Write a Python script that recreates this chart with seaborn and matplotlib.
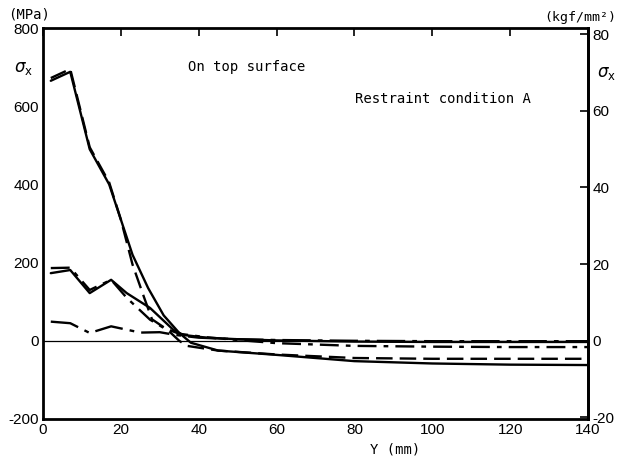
import numpy as np
import pandas as pd
import matplotlib
matplotlib.use("Agg")
import matplotlib.pyplot as plt
import seaborn as sns

# Series A (high peak)
a_solid_y = [2, 7, 12, 17, 20, 23, 27, 31, 35, 38, 45, 60, 80, 100, 120, 140]
a_solid_v = [665, 688, 490, 400, 310, 220, 135, 65, 20, -5, -25, -36, -52, -58, -61, -62]
a_dash_y = [2, 7, 12, 17, 20, 23, 26, 28, 32, 35, 37, 45, 60, 80, 100, 120, 140]
a_dash_v = [672, 695, 495, 405, 310, 195, 110, 55, 28, 0, -13, -25, -35, -44, -46, -46, -46]
# Series B (~180 start)
b_solid_y = [2, 7, 12, 17.5, 21.5, 27.5, 33.5, 36, 42, 50, 60, 80, 100, 120, 140]
b_solid_v = [173, 181, 122, 156, 122, 84, 28, 15, 8, 4, 1, -2, -3, -3, -3]
b_dd_y = [2, 7, 12, 17.5, 21.5, 27.5, 31, 35, 42, 50, 60, 80, 100, 120, 140]
b_dd_v = [186, 187, 130, 156, 110, 54, 33, 18, 9, 2, -6, -13, -15, -16, -16]
# Series C (~45 start)
c_y = [2, 7, 12, 17.5, 25, 30, 34, 40, 50, 60, 80, 100, 120, 140]
c_v = [49, 45, 20, 37, 21, 22, 15, 8, 4, 2, 0, -1, -1, -1]

x_ticks = [0, 20, 40, 60, 80, 100, 120, 140]
y_ticks = [-200, 0, 200, 400, 600, 800]
y2_ticks = [-20, 0, 20, 40, 60, 80]

sns.set_style("white")
plt.rcParams['font.family'] = ['DejaVu Sans Mono', 'DejaVu Sans']
plt.rcParams.update({"text.color": "black", "axes.labelcolor": "black",
                     "xtick.color": "black", "ytick.color": "black",
                     "axes.edgecolor": "black"})
tick_font = {"family": "Liberation Sans", "size": 11, "color": "black"}
mono = ['DejaVu Sans Mono', 'DejaVu Sans']

fig = plt.figure(figsize=(6.18, 4.59), dpi=100)
ax = fig.add_axes([43 / 618, 1 - 419 / 459, 545 / 618, 391 / 459])

series = [
    (a_solid_y, a_solid_v, "A solid", "-"),
    (a_dash_y, a_dash_v, "A dash", (0, (7, 3))),
    (b_solid_y, b_solid_v, "B solid", "-"),
    (b_dd_y, b_dd_v, "B dd", (0, (8, 3, 2, 3))),
    (c_y, c_v, "C", (0, (12, 3, 2, 3))),
]
for xs, vs, name, ls in series:
    df = pd.DataFrame({"Y": xs, "S": vs})
    sns.lineplot(data=df, x="Y", y="S", ax=ax, color="black", lw=1.7,
                 linestyle=ls, estimator=None, sort=False)

ax.axhline(0, color="black", lw=0.9)
ax.set_xlim(0, 140)
ax.set_ylim(-200, 800)
ax.set_xticks(x_ticks)
ax.set_yticks(y_ticks)
ax.set_xticklabels([str(t) for t in x_ticks], fontdict=tick_font)
ax.set_yticklabels([str(t) for t in y_ticks], fontdict=tick_font)
ax.tick_params(direction="in", length=6, width=1.2, top=True, pad=3, colors="black")
ax.set_xlabel("Y (mm)", fontsize=10, labelpad=1, family=mono, color="black")
ax.xaxis.set_label_coords(0.646, -0.06)
ax.set_ylabel("")
for s in ax.spines.values():
    s.set_color("black")
    s.set_linewidth(2)

conv = 9.807
sec = ax.secondary_yaxis("right", functions=(lambda v: v / conv, lambda v: v * conv))
sec.set_yticks(y2_ticks)
sec.set_yticklabels([str(t) for t in y2_ticks], fontdict=tick_font)
sec.tick_params(direction="in", length=6, width=1.2, pad=3, colors="black")
sec.spines["right"].set_linewidth(2)
sec.spines["right"].set_color("black")

fig.text(8 / 618, 1 - 15 / 459, "(MPa)", fontsize=10, va="center", ha="left", family=mono)
fig.text(14 / 618, 1 - 68 / 459, r"$\sigma_{\rm x}$", fontsize=12, va="center", ha="left")
fig.text(616 / 618, 1 - 17 / 459, "(kgf/mm²)", fontsize=9.5, va="center", ha="right", family=mono)
fig.text(616 / 618, 1 - 73 / 459, r"$\sigma_{\rm x}$", fontsize=12, va="center", ha="right")
fig.text(188 / 618, 1 - 67 / 459, "On top surface", fontsize=10, va="center", ha="left", family=mono)
fig.text(355 / 618, 1 - 99 / 459, "Restraint condition A", fontsize=10, va="center", ha="left", family=mono)

fig.savefig("out.png", dpi=100)
